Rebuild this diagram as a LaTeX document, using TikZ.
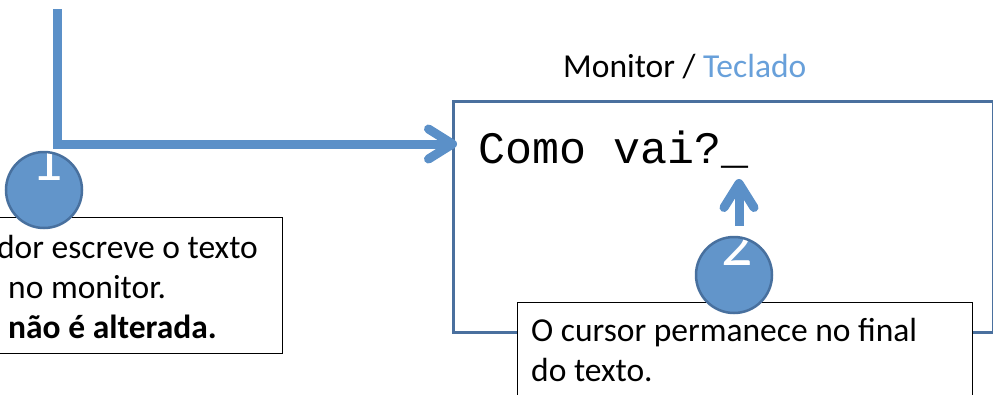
\documentclass[tikz,border=0pt]{standalone}
\usepackage{fontspec}
\setmainfont{Carlito}
\newfontfamily\screenfont{Liberation Mono}
\usetikzlibrary{arrows.meta}
\definecolor{arrowblue}{RGB}{91,144,200}
\definecolor{circfill}{RGB}{98,149,202}
\definecolor{circedge}{RGB}{72,112,158}
\definecolor{boxedge}{RGB}{74,112,158}
\definecolor{tecl}{RGB}{104,160,218}
\tikzset{
  flow/.style={draw=arrowblue, line width=9pt, -{Straight Barb[length=24pt, width=30pt, round]}},
  badge/.style={circle, fill=circfill, draw=circedge, line width=2.5pt, minimum size=76pt, inner sep=0pt},
  note/.style={draw=black, fill=white, line width=1.3pt, inner sep=0pt},
  txt/.style={font=\fontsize{33.5}{40}\selectfont, inner sep=0pt},
  digit/.style={text=white, font=\fontsize{62}{62}\selectfont, inner sep=0pt, anchor=base},
}
\begin{document}
\begin{tikzpicture}[x=1pt, y=-1pt]
\useasboundingbox (0,0) rectangle (993,394);
\clip (0,0) rectangle (993,394);
\fill[white] (0,0) rectangle (993,394);

% monitor
\node[txt, anchor=base west] (title) at (563,77) {Monitor / \textcolor{tecl}{Teclado}};
\node[draw=boxedge, line width=3pt, minimum width=540pt, minimum height=231pt, anchor=north west, inner sep=0pt] (mon) at (452,100) {};
\node[font=\screenfont\fontsize{45}{45}\selectfont, inner sep=0pt, anchor=base west] (screen) at (478,163) {Como vai?\_};

% note 2
\node[note, anchor=north west, minimum width=455pt, minimum height=120pt] (n2) at (517,302) {};
\node[txt, anchor=base west] (n2a) at (531,341) {O cursor permanece no final};
\node[txt, anchor=base west] (n2b) at (531,381) {do texto.};

% note 1
\node[note, anchor=north east, minimum width=300pt, minimum height=136pt] (n1) at (283,217) {};
\node[txt, anchor=base east] (n1a) at (258,258) {dor escreve o texto};
\node[txt, anchor=base west] (n1b) at (8,298) {no monitor.};
\node[txt, anchor=base west] (n1c) at (8,338) {\bfseries não é alterada.};

% arrows
\coordinate (src) at (57.5,9);
\coordinate (in) at (457,144);
\draw[flow] (src) |- (in);

% badges
\node[badge, path picture={\node[digit] at ([xshift=3pt, yshift=-28pt]path picture bounding box.north) {1};}] (c1) at (44,190) {};
\node[badge, path picture={\node[digit] at ([xshift=3pt, yshift=-28pt]path picture bounding box.north) {2};}] (c2) at (734,275) {};

\coordinate (cursor) at (739,179);
\draw[flow] ([xshift=5pt, yshift=10pt]c2.north) -- (cursor);
\end{tikzpicture}
\end{document}
